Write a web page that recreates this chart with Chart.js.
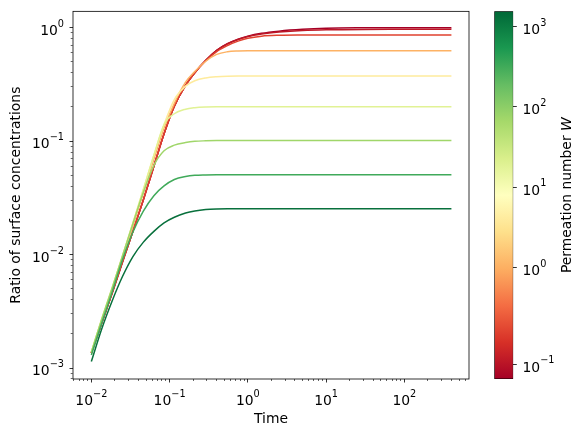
<!DOCTYPE html>
<html>
<head>
<meta charset="UTF-8">
<title>Ratio of surface concentrations</title>
<script src="https://cdn.jsdelivr.net/npm/chart.js@4.4.1/dist/chart.umd.min.js"></script>
<style>
  body { margin: 0; background: #fff; }
  #wrap { position: relative; width: 586px; height: 437px; }
  #chart, #cbar { position: absolute; top: 0; }
  #chart { left: 0; }
  #cbar { left: 480px; }
</style>
</head>
<body>
<div id="wrap">
  <canvas id="chart" width="586" height="437"></canvas>
  <canvas id="cbar" width="106" height="437"></canvas>
</div>
<script>
// time samples
var times = [0.01, 0.0136, 0.0185, 0.025, 0.034, 0.046, 0.063, 0.085, 0.115, 0.16, 0.21, 0.29,
             0.4, 0.55, 0.75, 1, 1.5, 2.5, 5, 10, 30, 100, 400];

// one array per permeation number, smallest W (dark red) to largest W (dark green)
var ratioA = [0.00135, 0.0025, 0.0046, 0.0086, 0.016, 0.030, 0.060, 0.116, 0.203, 0.31, 0.40, 0.515,
              0.63, 0.72, 0.79, 0.84, 0.89, 0.93, 0.965, 0.985, 0.995, 0.998, 0.998];
var ratioB = [0.00135, 0.0025, 0.0046, 0.0086, 0.016, 0.030, 0.060, 0.116, 0.203, 0.31, 0.40, 0.515,
              0.63, 0.72, 0.785, 0.835, 0.878, 0.913, 0.943, 0.957, 0.964, 0.965, 0.965];
var ratioC = [0.00135, 0.0025, 0.0046, 0.0086, 0.016, 0.030, 0.060, 0.116, 0.203, 0.31, 0.40, 0.51,
              0.615, 0.695, 0.76, 0.805, 0.84, 0.855, 0.86, 0.861, 0.861, 0.861, 0.861];
var ratioD = [0.00137, 0.0026, 0.0049, 0.0093, 0.0178, 0.0345, 0.069, 0.13, 0.215, 0.33, 0.41, 0.505,
              0.58, 0.612, 0.622, 0.625, 0.625, 0.625, 0.625, 0.625, 0.625, 0.625, 0.625];
var ratioE = [0.00138, 0.0027, 0.0051, 0.0097, 0.019, 0.037, 0.075, 0.14, 0.232, 0.305, 0.34, 0.36,
              0.369, 0.373, 0.374, 0.374, 0.374, 0.374, 0.374, 0.374, 0.374, 0.374, 0.374];
var ratioF = [0.00138, 0.0027, 0.0051, 0.0097, 0.019, 0.037, 0.075, 0.14, 0.174, 0.191, 0.197, 0.200,
              0.201, 0.201, 0.201, 0.201, 0.201, 0.201, 0.201, 0.201, 0.201, 0.201, 0.201];
var ratioG = [0.00138, 0.0027, 0.0051, 0.0097, 0.0187, 0.035, 0.061, 0.082, 0.092, 0.097, 0.0995, 0.1005,
              0.101, 0.101, 0.101, 0.101, 0.101, 0.101, 0.101, 0.101, 0.101, 0.101, 0.101];
var ratioH = [0.0013, 0.0025, 0.0047, 0.009, 0.0158, 0.024, 0.033, 0.0402, 0.0458, 0.0487, 0.0499, 0.0503,
              0.0505, 0.0505, 0.0505, 0.0505, 0.0505, 0.0505, 0.0505, 0.0505, 0.0505, 0.0505, 0.0505];
var ratioI = [0.00114, 0.00222, 0.00392, 0.0064, 0.0096, 0.0128, 0.016, 0.019, 0.0213, 0.0232, 0.0242, 0.0249,
              0.0252, 0.0253, 0.0253, 0.0253, 0.0253, 0.0253, 0.0253, 0.0253, 0.0253, 0.0253, 0.0253];

var series = [ratioA, ratioB, ratioC, ratioD, ratioE, ratioF, ratioG, ratioH, ratioI];
var lineColors = ['#a50026', '#bd1726', '#e0422f', '#fdb264', '#feeb9d', '#e1f295', '#a0d66a', '#40aa5a', '#08703c'];

var xRange = [0.00583, 671];
var yRange = [0.0008, 1.39];
var xTickVals = [0.01, 0.1, 1, 10, 100];
var xTickLabels = [['10', '\u22122'], ['10', '\u22121'], ['10', '0'], ['10', '1'], ['10', '2']];
var yTickVals = [0.001, 0.01, 0.1, 1];
var yTickLabels = [['10', '\u22123'], ['10', '\u22122'], ['10', '\u22121'], ['10', '0']];

var cbarRange = [0.0706, 1550];
var cbarTickVals = [0.1, 1, 10, 100, 1000];
var cbarTickLabels = [['10', '\u22121'], ['10', '0'], ['10', '1'], ['10', '2'], ['10', '3']];
var cbarTitle = 'Permeation number ';
var cbarColors = ['#a50026', '#d73027', '#f46d43', '#fdae61', '#fee08b', '#ffffbf',
                  '#d9ef8b', '#a6d96a', '#66bd63', '#1a9850', '#006837'];

var FONT = '"DejaVu Sans", sans-serif';
Chart.defaults.font.family = FONT;
Chart.defaults.font.size = 13.9;
Chart.defaults.color = '#000';

function logTicks(range) {
  var out = [];
  for (var e = Math.floor(Math.log10(range[0])); e <= Math.ceil(Math.log10(range[1])); e++) {
    for (var m = 1; m < 10; m++) {
      var v = m * Math.pow(10, e);
      if (v >= range[0] && v <= range[1]) out.push({value: v, major: m === 1});
    }
  }
  return out;
}

function tickGrid(minorDash) {
  return {
    drawOnChartArea: false,
    drawTicks: true,
    tickLength: 3.5,
    tickColor: '#000',
    tickWidth: function (c) { return c.tick && c.tick.major ? 0.8 : 0.6; },
    tickBorderDash: function (c) { return c.tick && c.tick.major ? [] : minorDash; }
  };
}

// "10" with a raised exponent, like matplotlib's mathtext tick labels
function drawPower(c, parts, x, midY, align) {
  var bf = '13.9px ' + FONT, ef = '9.73px ' + FONT;
  c.font = bf; var wb = c.measureText(parts[0]).width;
  c.font = ef; var we = c.measureText(parts[1]).width;
  var w = wb + we;
  var x0 = align === 'center' ? x - w / 2 : (align === 'right' ? x - w : x);
  var baseline = midY + 5.1;
  c.textAlign = 'left';
  c.textBaseline = 'alphabetic';
  c.font = bf; c.fillText(parts[0], x0, baseline);
  c.font = ef; c.fillText(parts[1], x0 + wb, baseline - 8.3);
}

var mainDecor = {
  id: 'mainDecor',
  afterDraw: function (chart) {
    var a = chart.chartArea, c = chart.ctx, sx = chart.scales.x, sy = chart.scales.y;
    c.save();
    c.strokeStyle = '#000';
    c.lineWidth = 0.8;
    c.strokeRect(a.left, a.top, a.right - a.left, a.bottom - a.top);
    c.fillStyle = '#000';
    xTickVals.forEach(function (v, i) {
      drawPower(c, xTickLabels[i], sx.getPixelForValue(v), a.bottom + 20.7, 'center');
    });
    yTickVals.forEach(function (v, i) {
      drawPower(c, yTickLabels[i], a.left - 9, sy.getPixelForValue(v) + 2.3, 'right');
    });
    c.restore();
  }
};

var datasets = series.map(function (vals, i) {
  return {
    data: times.map(function (t, j) { return {x: t, y: vals[j]}; }),
    borderColor: lineColors[i],
    borderWidth: 1.5,
    pointRadius: 0,
    cubicInterpolationMode: 'monotone',
    fill: false,
    order: series.length - i
  };
});

new Chart(document.getElementById('chart'), {
  type: 'line',
  data: {datasets: datasets},
  options: {
    responsive: false,
    animation: false,
    devicePixelRatio: 1,
    layout: {padding: {top: 10, right: 117, left: 0, bottom: 0}},
    plugins: {legend: {display: false}, tooltip: {enabled: false}},
    scales: {
      x: {
        type: 'logarithmic',
        min: xRange[0], max: xRange[1],
        afterBuildTicks: function (s) { s.ticks = logTicks(xRange); },
        afterFit: function (s) { s.height = 58; },
        border: {display: false},
        grid: tickGrid([2, 10]),
        ticks: {autoSkip: false, maxRotation: 0, minRotation: 0, callback: function () { return ''; }},
        title: {display: true, text: 'Time', padding: {top: 0, bottom: 9.7}}
      },
      y: {
        type: 'logarithmic',
        min: yRange[0], max: yRange[1],
        afterBuildTicks: function (s) { s.ticks = logTicks(yRange); },
        afterFit: function (s) { s.width = 73; },
        border: {display: false},
        grid: tickGrid([0, 1.2, 2, 10]),
        ticks: {autoSkip: false, callback: function () { return ''; }},
        title: {display: true, text: 'Ratio of surface concentrations', padding: {top: 7.6, bottom: 0}}
      }
    }
  },
  plugins: [mainDecor]
});

// colour bar: log axis whose decades below 10^0 are drawn a little taller than those above
var LogScale = Chart.registry.getScale('logarithmic');
var SPLIT_SHARE = 0.3033;
class SplitLogScale extends LogScale {
  _dec(v) {
    var lo = Math.log10(this.min), hi = Math.log10(this.max), L = Math.log10(v);
    return L <= 0 ? SPLIT_SHARE * (L - lo) / (0 - lo) : SPLIT_SHARE + (1 - SPLIT_SHARE) * L / hi;
  }
  getPixelForValue(value) {
    if (value === undefined || value === 0) value = this.min;
    if (value === null || isNaN(value)) return NaN;
    return this.getPixelForDecimal(this._dec(value));
  }
  getValueForPixel(pixel) {
    var d = this.getDecimalForPixel(pixel);
    var lo = Math.log10(this.min), hi = Math.log10(this.max);
    var L = d <= SPLIT_SHARE ? lo + d / SPLIT_SHARE * (0 - lo) : (d - SPLIT_SHARE) / (1 - SPLIT_SHARE) * hi;
    return Math.pow(10, L);
  }
}
SplitLogScale.id = 'splitlog';
SplitLogScale.defaults = LogScale.defaults;
Chart.register(SplitLogScale);

function cbarFill(ctx) {
  var area = ctx.chart.chartArea;
  if (!area) return cbarColors[0];
  var g = ctx.chart.ctx.createLinearGradient(0, area.bottom, 0, area.top);
  cbarColors.forEach(function (c, i) { g.addColorStop(i / (cbarColors.length - 1), c); });
  return g;
}

var cbarDecor = {
  id: 'cbarDecor',
  afterDraw: function (chart) {
    var a = chart.chartArea, c = chart.ctx, sy = chart.scales.y;
    c.save();
    c.fillStyle = '#000';
    cbarTickVals.forEach(function (v, i) {
      drawPower(c, cbarTickLabels[i], a.right + 9.2, sy.getPixelForValue(v) + 2.3, 'left');
    });
    var x = sy.right - 19, y = (a.top + a.bottom) / 2;
    var f1 = '13.9px ' + FONT, f2 = 'italic 13.9px ' + FONT;
    c.translate(x, y);
    c.rotate(-Math.PI / 2);
    c.textBaseline = 'middle';
    c.textAlign = 'left';
    c.font = f1; var w1 = c.measureText(cbarTitle).width;
    c.font = f2; var w2 = c.measureText('W').width;
    var s = -(w1 + w2) / 2;
    c.font = f1; c.fillText(cbarTitle, s, 0);
    c.font = f2; c.fillText('W', s + w1, 0);
    c.restore();
  }
};

new Chart(document.getElementById('cbar'), {
  type: 'bar',
  data: {
    labels: [''],
    datasets: [{
      data: [[cbarRange[0], cbarRange[1]]],
      backgroundColor: cbarFill,
      borderColor: '#000',
      borderWidth: 0.8,
      borderSkipped: false,
      barPercentage: 1,
      categoryPercentage: 1
    }]
  },
  options: {
    responsive: false,
    animation: false,
    devicePixelRatio: 1,
    layout: {padding: {left: 14.3, top: 10.7, bottom: 58, right: 0}},
    plugins: {legend: {display: false}, tooltip: {enabled: false}},
    scales: {
      x: {display: false},
      y: {
        type: 'splitlog',
        position: 'right',
        beginAtZero: false,
        min: cbarRange[0], max: cbarRange[1],
        afterBuildTicks: function (s) {
          s.ticks = cbarTickVals.map(function (v) { return {value: v, major: true}; });
        },
        afterFit: function (s) { s.width = 72.7; },
        border: {display: false},
        grid: tickGrid([]),
        ticks: {autoSkip: false, callback: function () { return ''; }}
      }
    }
  },
  plugins: [cbarDecor]
});
</script>
</body>
</html>
